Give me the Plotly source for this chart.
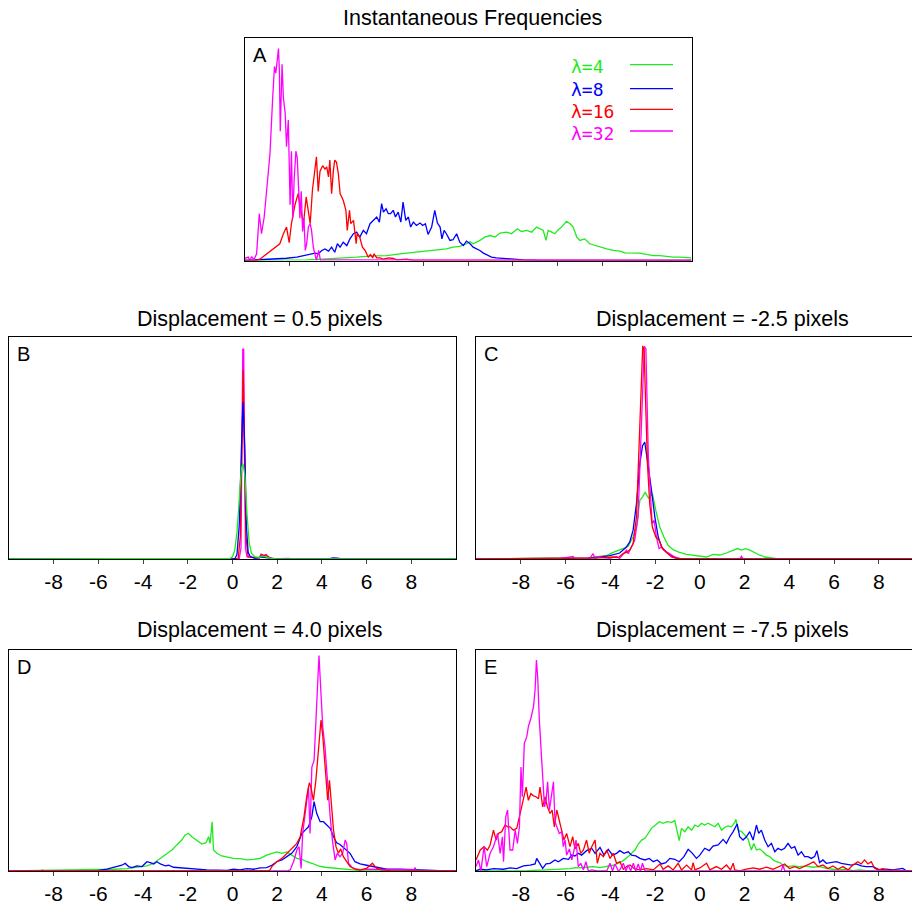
import plotly.graph_objects as go

# ---------------- data (x, relative density) ----------------
SERIES = ["λ=4", "λ=8", "λ=16", "λ=32"]
TICKS_A = [1, 2, 3, 4, 5, 6, 7, 8, 9]
TICKS_BE = [-8, -6, -4, -2, 0, 2, 4, 6, 8]
TICK_LABELS_BE = ["-8", "-6", "-4", "-2", "0", "2", "4", "6", "8"]
TITLES = ["Instantaneous Frequencies", "Displacement = 0.5 pixels", "Displacement = -2.5 pixels",
          "Displacement = 4.0 pixels", "Displacement = -7.5 pixels"]
LETTERS = ["A", "B", "C", "D", "E"]

A_L4 = [(0,0),(1.01,0),(1.38,0.003),(1.83,0.0075),(2.13,0.01),(2.50,0.015),(2.87,0.021),(3.17,0.022),(3.47,0.03),(3.77,0.037),(4.07,0.042),(4.22,0.045),(4.37,0.048),(4.51,0.052),(4.66,0.06),(4.81,0.063),(4.96,0.075),(5.04,0.084),(5.11,0.075),(5.19,0.082),(5.26,0.09),(5.37,0.105),(5.49,0.112),(5.60,0.105),(5.71,0.123),(5.86,0.127),(5.97,0.12),(6.10,0.142),(6.19,0.13),(6.31,0.135),(6.42,0.127),(6.53,0.15),(6.60,0.142),(6.68,0.135),(6.74,0.09),(6.79,0.135),(6.87,0.127),(6.94,0.12),(7.01,0.137),(7.09,0.15),(7.20,0.176),(7.28,0.165),(7.35,0.15),(7.43,0.105),(7.50,0.09),(7.61,0.097),(7.72,0.075),(7.84,0.067),(7.95,0.06),(8.10,0.052),(8.25,0.045),(8.40,0.042),(8.51,0.034),(8.69,0.033),(8.84,0.033),(8.99,0.027),(9.14,0.022),(9.29,0.022),(9.44,0.018),(9.59,0.015),(9.74,0.015),(9.89,0.012),(10,0.012)]
A_L8 = [(0,0),(0.34,0.003),(0.63,0.006),(0.93,0.01),(1.16,0.015),(1.31,0.022),(1.46,0.027),(1.57,0.033),(1.64,0.03),(1.72,0.045),(1.79,0.052),(1.87,0.042),(1.94,0.06),(2.01,0.037),(2.07,0.075),(2.13,0.06),(2.20,0.082),(2.28,0.067),(2.35,0.097),(2.43,0.12),(2.50,0.127),(2.57,0.105),(2.65,0.135),(2.72,0.12),(2.80,0.165),(2.87,0.18),(2.95,0.195),(3.01,0.172),(3.06,0.255),(3.10,0.217),(3.16,0.232),(3.21,0.21),(3.26,0.21),(3.32,0.225),(3.37,0.195),(3.43,0.217),(3.49,0.172),(3.54,0.262),(3.60,0.18),(3.66,0.195),(3.71,0.15),(3.77,0.172),(3.84,0.157),(3.92,0.168),(3.98,0.157),(4.04,0.165),(4.10,0.117),(4.18,0.15),(4.25,0.225),(4.31,0.168),(4.37,0.15),(4.41,0.097),(4.46,0.135),(4.51,0.12),(4.59,0.09),(4.66,0.093),(4.74,0.12),(4.81,0.082),(4.89,0.067),(4.96,0.087),(5.04,0.075),(5.11,0.06),(5.19,0.052),(5.26,0.045),(5.34,0.033),(5.41,0.027),(5.52,0.015),(5.63,0.012),(5.78,0.009),(6.01,0.006),(6.23,0.003),(6.60,0),(10,0)]
A_L16 = [(0,0),(0.26,0),(0.34,0.007),(0.49,0.03),(0.60,0.045),(0.71,0.06),(0.78,0.075),(0.86,0.12),(0.93,0.15),(0.99,0.08),(1.04,0.165),(1.12,0.25),(1.19,0.30),(1.25,0.225),(1.31,0.165),(1.37,0.285),(1.42,0.225),(1.46,0.165),(1.51,0.315),(1.57,0.43),(1.60,0.465),(1.64,0.31),(1.68,0.40),(1.74,0.425),(1.79,0.41),(1.83,0.42),(1.87,0.375),(1.90,0.45),(1.94,0.30),(1.98,0.405),(2.01,0.45),(2.05,0.44),(2.09,0.39),(2.13,0.30),(2.20,0.27),(2.26,0.225),(2.29,0.135),(2.34,0.225),(2.37,0.165),(2.43,0.18),(2.49,0.075),(2.51,0.12),(2.57,0.105),(2.63,0.06),(2.69,0.045),(2.76,0.015),(2.81,0.027),(2.86,0.012),(2.89,0.03),(2.95,0.012),(3.02,0.012),(3.10,0.006),(3.21,0.012),(3.32,0.009),(3.40,0.003),(3.62,0.006),(3.77,0),(10,0)]
A_L32 = [(0,0.01),(0.075,0.015),(0.11,0),(0.15,0.018),(0.2,0.003),(0.26,0.03),(0.32,0.21),(0.37,0.12),(0.43,0.195),(0.485,0.31),(0.56,0.48),(0.62,0.73),(0.66,0.87),(0.69,0.84),(0.75,0.95),(0.77,0.85),(0.79,0.58),(0.83,0.88),(0.86,0.73),(0.90,0.66),(0.93,0.51),(0.97,0.63),(1.01,0.25),(1.04,0.49),(1.07,0.19),(1.10,0.36),(1.14,0.49),(1.17,0.46),(1.20,0.34),(1.23,0.19),(1.26,0.31),(1.29,0.13),(1.32,0.19),(1.35,0.045),(1.38,0.075),(1.42,0.15),(1.46,0.165),(1.49,0.135),(1.53,0.06),(1.57,0.03),(1.60,0),(1.65,0.045),(1.69,0),(1.75,0.003),(10,0)]

B_L4 = [(-10,0),(-0.3,0),(-0.1,0.003),(0.0,0.01),(0.1,0.04),(0.2,0.12),(0.3,0.28),(0.4,0.41),(0.47,0.43),(0.55,0.38),(0.65,0.2),(0.75,0.07),(0.85,0.025),(1.0,0.01),(1.2,0.008),(1.35,0.012),(1.5,0.01),(1.7,0.003),(2.0,0),(10,0)]
B_L8 = [(-10,0),(0.1,0),(0.2,0.02),(0.3,0.15),(0.4,0.5),(0.47,0.707),(0.55,0.5),(0.62,0.15),(0.7,0.03),(0.8,0.01),(1.0,0.003),(1.3,0.008),(1.5,0.006),(2.0,0),(4.3,0),(4.5,0.005),(4.7,0.004),(4.9,0),(10,0)]
B_L16 = [(-10,0),(0.25,0),(0.35,0.1),(0.43,0.6),(0.48,0.85),(0.53,0.5),(0.6,0.1),(0.7,0.01),(1.2,0.005),(1.3,0.02),(1.4,0.015),(1.5,0.018),(1.7,0.003),(2.0,0),(10,0)]
B_L32 = [(-10,0),(0.3,0),(0.38,0.05),(0.43,0.5),(0.46,0.945),(0.5,0.945),(0.53,0.4),(0.58,0.05),(0.65,0.01),(1.2,0.005),(1.28,0.022),(1.4,0.015),(1.5,0.02),(1.6,0.008),(1.8,0),(2.5,0.003),(2.7,0),(10,0)]

C_L4 = [(-10,0),(-6,0.002),(-5,0.004),(-4.47,0.012),(-4.17,0.015),(-3.87,0.03),(-3.58,0.04),(-3.35,0.05),(-3.2,0.057),(-2.98,0.1),(-2.83,0.144),(-2.68,0.264),(-2.56,0.28),(-2.44,0.30),(-2.30,0.275),(-2.12,0.294),(-1.97,0.22),(-1.79,0.144),(-1.61,0.1),(-1.42,0.062),(-1.19,0.042),(-0.97,0.032),(-0.6,0.021),(-0.15,0.015),(0.3,0.009),(0.6,0.021),(0.89,0.018),(1.19,0.027),(1.42,0.036),(1.68,0.047),(1.86,0.04),(2.04,0.047),(2.24,0.04),(2.46,0.027),(2.68,0.017),(2.91,0.009),(3.13,0.006),(3.43,0.002),(3.87,0),(10,0)]
C_L8 = [(-10,0),(-6,0.002),(-5,0.004),(-4.47,0.009),(-4.02,0.015),(-3.58,0.027),(-3.28,0.054),(-3.13,0.077),(-2.98,0.13),(-2.83,0.25),(-2.68,0.43),(-2.56,0.51),(-2.46,0.527),(-2.38,0.47),(-2.27,0.40),(-2.16,0.31),(-2.01,0.19),(-1.86,0.1),(-1.71,0.054),(-1.49,0.03),(-1.27,0.015),(-1.04,0.003),(-0.3,0),(10,0)]
C_L16 = [(-10,0),(-5,0.002),(-4.47,0.005),(-3.87,0.009),(-3.65,0.006),(-3.43,0.024),(-3.28,0.03),(-3.13,0.04),(-2.98,0.07),(-2.83,0.19),(-2.71,0.5),(-2.62,0.8),(-2.55,0.96),(-2.49,0.94),(-2.41,0.65),(-2.34,0.43),(-2.24,0.25),(-2.12,0.144),(-1.97,0.1),(-1.82,0.084),(-1.67,0.047),(-1.49,0.03),(-1.27,0.009),(-1.04,0.003),(-0.3,0),(10,0)]
C_L32 = [(-10,0),(-6.26,0.002),(-5.66,0.012),(-5.59,0),(-4.92,0.003),(-4.77,0.024),(-4.69,0.003),(-4.47,0.009),(-4.02,0.003),(-3.73,0.012),(-3.58,0.003),(-3.43,0.024),(-3.28,0.04),(-3.2,0.024),(-3.06,0.054),(-2.91,0.084),(-2.76,0.19),(-2.64,0.5),(-2.53,0.85),(-2.48,0.958),(-2.41,0.947),(-2.35,0.73),(-2.3,0.46),(-2.2,0.28),(-2.13,0.16),(-2.04,0.174),(-1.94,0.1),(-1.82,0.047),(-1.71,0.054),(-1.61,0.04),(-1.46,0.032),(-1.31,0.021),(-1.12,0.009),(-0.89,0.003),(-0.3,0),(1.79,0),(1.86,0.012),(1.94,0),(10,0)]

D_L4 = [(-10,0),(-6.07,0.005),(-5.32,0.008),(-4.72,0.011),(-4.13,0.017),(-3.83,0.023),(-3.53,0.035),(-3.23,0.057),(-2.94,0.08),(-2.71,0.095),(-2.49,0.118),(-2.27,0.14),(-2.12,0.163),(-1.97,0.17),(-1.82,0.155),(-1.59,0.14),(-1.37,0.122),(-1.18,0.128),(-1.07,0.155),(-1.0,0.125),(-0.91,0.223),(-0.85,0.095),(-0.70,0.08),(-0.48,0.068),(-0.25,0.062),(0.04,0.057),(0.34,0.056),(0.64,0.05),(0.94,0.053),(1.24,0.057),(1.53,0.072),(1.76,0.08),(1.98,0.086),(2.21,0.08),(2.43,0.086),(2.65,0.072),(2.88,0.057),(3.1,0.053),(3.32,0.042),(3.55,0.035),(3.84,0.023),(4.14,0.017),(4.52,0.014),(4.81,0.011),(5.26,0.005),(5.71,0.002),(6.5,0),(10,0)]
D_L8 = [(-10,0),(-6.07,0.002),(-5.62,0.008),(-5.40,0.015),(-5.17,0.02),(-4.95,0.026),(-4.8,0.035),(-4.65,0.02),(-4.5,0.015),(-4.28,0.023),(-4.05,0.02),(-3.83,0.042),(-3.68,0.038),(-3.53,0.032),(-3.38,0.042),(-3.23,0.032),(-3.01,0.023),(-2.86,0.026),(-2.64,0.017),(-2.34,0.014),(-2.04,0.011),(-1.74,0.008),(-1.15,0.005),(-0.25,0.003),(0.04,0.008),(0.34,0.005),(0.64,0.011),(0.94,0.008),(1.24,0.014),(1.53,0.015),(1.76,0.026),(1.98,0.042),(2.21,0.05),(2.43,0.065),(2.65,0.08),(2.88,0.11),(3.1,0.17),(3.25,0.185),(3.40,0.2),(3.55,0.246),(3.65,0.314),(3.77,0.26),(3.92,0.223),(4.07,0.223),(4.22,0.208),(4.37,0.193),(4.52,0.155),(4.66,0.128),(4.81,0.12),(5.04,0.1),(5.26,0.08),(5.48,0.042),(5.71,0.032),(6.0,0.026),(6.3,0.02),(6.6,0.011),(6.9,0.008),(7.5,0.008),(8.1,0.005),(8.69,0.005),(9.28,0.002),(10,0)]
D_L16 = [(-10,0),(-8.6,0),(-8.5,0.004),(-8.4,0),(1.6,0),(1.68,0.005),(1.76,0.02),(1.98,0.042),(2.21,0.057),(2.43,0.08),(2.65,0.1),(2.88,0.125),(3.03,0.155),(3.20,0.246),(3.32,0.336),(3.44,0.4),(3.52,0.374),(3.62,0.32),(3.73,0.41),(3.84,0.547),(3.96,0.683),(4.04,0.61),(4.14,0.457),(4.26,0.32),(4.34,0.41),(4.41,0.32),(4.52,0.185),(4.63,0.11),(4.74,0.08),(4.84,0.1),(4.96,0.065),(5.11,0.042),(5.26,0.02),(5.48,0.008),(5.71,0.005),(6.0,0.012),(6.26,0.035),(6.45,0.012),(6.68,0.005),(7.05,0.002),(7.5,0),(10,0)]
D_L32 = [(-10,0),(2.43,0),(2.58,0.005),(2.73,0.042),(2.88,0.095),(2.98,0.11),(3.07,0.012),(3.14,0.17),(3.29,0.29),(3.40,0.38),(3.47,0.17),(3.55,0.47),(3.65,0.50),(3.77,0.74),(3.87,0.975),(3.95,0.82),(4.04,0.65),(4.14,0.56),(4.25,0.4),(4.37,0.246),(4.47,0.14),(4.59,0.05),(4.69,0.08),(4.81,0.065),(4.93,0.08),(5.04,0.14),(5.11,0.125),(5.19,0.035),(5.34,0.017),(5.56,0.008),(5.78,0.005),(6.0,0.008),(8.1,0.005),(8.17,0.014),(8.24,0),(10,0)]

E_L4 = [(-10,0),(-9.2,0),(-7.73,0.0015),(-6.84,0.005),(-6.25,0.008),(-5.80,0.011),(-5.58,0.015),(-5.43,0.014),(-5.06,0.017),(-4.76,0.02),(-4.46,0.015),(-4.16,0.02),(-3.87,0.026),(-3.64,0.035),(-3.42,0.047),(-3.20,0.065),(-3.05,0.08),(-2.90,0.095),(-2.75,0.122),(-2.60,0.14),(-2.45,0.148),(-2.30,0.17),(-2.16,0.193),(-1.98,0.208),(-1.81,0.223),(-1.64,0.216),(-1.46,0.223),(-1.26,0.22),(-1.12,0.228),(-1.01,0.178),(-0.92,0.137),(-0.82,0.193),(-0.67,0.178),(-0.52,0.2),(-0.37,0.185),(-0.22,0.208),(-0.07,0.2),(0.07,0.216),(0.22,0.208),(0.37,0.216),(0.52,0.208),(0.67,0.2),(0.82,0.216),(0.97,0.185),(1.12,0.198),(1.26,0.204),(1.41,0.2),(1.56,0.22),(1.61,0.234),(1.71,0.185),(1.86,0.178),(2.01,0.163),(2.16,0.143),(2.30,0.095),(2.41,0.125),(2.53,0.095),(2.68,0.1),(2.83,0.087),(2.97,0.072),(3.12,0.065),(3.27,0.05),(3.42,0.042),(3.57,0.038),(3.72,0.026),(3.94,0.02),(4.16,0.023),(4.46,0.02),(4.76,0.023),(5.05,0.017),(5.35,0.02),(5.65,0.012),(5.95,0.008),(6.25,0.005),(6.54,0.008),(6.84,0.0015),(7.14,0.005),(7.43,0.0015),(7.88,0),(10,0)]
E_L8 = [(-10,0.0015),(-9.81,0.008),(-9.52,0.005),(-9.22,0.011),(-8.77,0.008),(-8.48,0.014),(-8.18,0.011),(-7.88,0.023),(-7.58,0.027),(-7.36,0.032),(-7.29,0.057),(-7.14,0.032),(-7.02,0.012),(-6.87,0.032),(-6.69,0.035),(-6.47,0.05),(-6.32,0.042),(-6.10,0.057),(-5.87,0.053),(-5.72,0.072),(-5.58,0.068),(-5.43,0.08),(-5.28,0.072),(-5.06,0.092),(-4.83,0.103),(-4.68,0.08),(-4.46,0.107),(-4.28,0.072),(-4.09,0.098),(-3.90,0.072),(-3.72,0.08),(-3.57,0.092),(-3.39,0.08),(-3.20,0.087),(-3.05,0.072),(-2.86,0.068),(-2.68,0.057),(-2.45,0.05),(-2.26,0.057),(-2.08,0.042),(-1.90,0.05),(-1.71,0.032),(-1.52,0.038),(-1.34,0.057),(-1.12,0.053),(-0.92,0.042),(-0.71,0.065),(-0.52,0.098),(-0.33,0.08),(-0.15,0.057),(0.0,0.072),(0.22,0.103),(0.42,0.092),(0.59,0.113),(0.82,0.118),(1.04,0.143),(1.19,0.125),(1.34,0.155),(1.49,0.178),(1.67,0.213),(1.78,0.155),(1.93,0.14),(2.08,0.155),(2.23,0.178),(2.38,0.14),(2.53,0.208),(2.63,0.17),(2.75,0.185),(2.90,0.14),(3.05,0.11),(3.20,0.125),(3.35,0.087),(3.49,0.103),(3.64,0.095),(3.79,0.103),(3.94,0.125),(4.09,0.103),(4.24,0.11),(4.39,0.072),(4.54,0.087),(4.68,0.065),(4.83,0.065),(4.98,0.057),(5.13,0.065),(5.23,0.092),(5.35,0.038),(5.50,0.05),(5.65,0.035),(5.87,0.038),(6.10,0.042),(6.32,0.035),(6.54,0.032),(6.77,0.027),(6.99,0.032),(7.21,0.023),(7.43,0.02),(7.73,0.02),(8.03,0.005),(8.33,0.008),(8.62,0.005),(8.92,0.008),(9.07,0.012),(9.22,0.0015),(9.6,0.0015)]
E_L16 = [(-10,0.05),(-9.81,0.095),(-9.64,0.11),(-9.49,0.094),(-9.37,0.118),(-9.22,0.185),(-9.10,0.14),(-9.0,0.17),(-8.85,0.178),(-8.70,0.208),(-8.59,0.2),(-8.48,0.2),(-8.33,0.185),(-8.18,0.193),(-8.03,0.26),(-7.88,0.336),(-7.76,0.38),(-7.66,0.32),(-7.55,0.35),(-7.43,0.34),(-7.32,0.336),(-7.21,0.327),(-7.14,0.38),(-7.02,0.29),(-6.91,0.336),(-6.81,0.29),(-6.69,0.26),(-6.6,0.276),(-6.50,0.2),(-6.39,0.276),(-6.28,0.23),(-6.17,0.17),(-6.07,0.14),(-5.95,0.17),(-5.80,0.11),(-5.68,0.155),(-5.58,0.1),(-5.43,0.125),(-5.32,0.08),(-5.20,0.095),(-5.06,0.14),(-4.94,0.08),(-4.83,0.11),(-4.68,0.14),(-4.58,0.035),(-4.46,0.08),(-4.31,0.065),(-4.16,0.095),(-4.01,0.057),(-3.87,0.08),(-3.72,0.035),(-3.57,0.042),(-3.42,0.008),(-3.27,0.02),(-3.12,0.027),(-2.90,0.008),(-2.68,0.005),(-2.38,0.011),(-2.08,0.005),(-1.78,0.032),(-1.64,0.008),(-1.41,0.023),(-1.19,0.005),(-0.97,0.035),(-0.82,0.005),(-0.59,0.027),(-0.37,0.005),(-0.3,0.038),(-0.22,0.005),(0.0,0.014),(0.3,0.035),(0.45,0.005),(0.74,0.02),(0.97,0.008),(1.19,0.027),(1.37,0.005),(1.49,0.035),(1.56,0.005),(1.78,0),(2.08,0.008),(2.38,0.014),(2.68,0.008),(2.97,0.017),(3.27,0.008),(3.57,0.02),(3.79,0.032),(4.01,0.011),(4.24,0.02),(4.46,0.011),(4.68,0.02),(4.91,0.032),(5.09,0.042),(5.28,0.02),(5.50,0.027),(5.72,0.011),(5.95,0.023),(6.17,0.008),(6.39,0.02),(6.62,0.005),(6.84,0.027),(7.06,0.042),(7.21,0.032),(7.36,0.05),(7.51,0.032),(7.66,0.042),(7.81,0.012),(7.96,0.005),(8.18,0.011),(8.48,0.0015),(8.77,0.005),(9.07,0),(9.37,0.0015),(9.6,0)]
E_L32 = [(-10,0.02),(-9.89,0.05),(-9.78,0),(-9.64,0.11),(-9.52,0.02),(-9.37,0.08),(-9.22,0.11),(-9.04,0.17),(-8.92,0.08),(-8.82,0.155),(-8.77,0.042),(-8.67,0.246),(-8.59,0.276),(-8.48,0.095),(-8.36,0.095),(-8.25,0.185),(-8.15,0.125),(-8.06,0.2),(-7.99,0.47),(-7.93,0.336),(-7.84,0.578),(-7.73,0.608),(-7.66,0.653),(-7.55,0.69),(-7.43,0.744),(-7.36,0.82),(-7.30,0.955),(-7.24,0.87),(-7.17,0.683),(-7.09,0.547),(-7.02,0.41),(-6.94,0.29),(-6.87,0.32),(-6.80,0.404),(-6.72,0.276),(-6.62,0.336),(-6.54,0.404),(-6.47,0.223),(-6.39,0.2),(-6.28,0.17),(-6.17,0.178),(-6.10,0.11),(-6.02,0.14),(-5.95,0.072),(-5.83,0.1),(-5.72,0.05),(-5.65,0.08),(-5.53,0.14),(-5.43,0.02),(-5.32,0.035),(-5.20,0.005),(-5.09,0.042),(-4.98,0),(-4.83,0.005),(-4.61,0),(-4.16,0),(-4.01,0.035),(-3.90,0),(-3.79,0.032),(-3.64,0),(-3.57,0.005),(-3.42,0.035),(-3.30,0),(-3.20,0.027),(-3.09,0),(-2.97,0.035),(-2.86,0),(-2.75,0.032),(-2.65,0),(-2.56,0.035),(-2.45,0),(3.64,0),(3.72,0.027),(3.79,0),(9.6,0)]

# ---------------- styling ----------------
W, H = 912, 905
COLORS = {"λ=4": "rgb(30,235,30)", "λ=8": "rgb(0,0,255)", "λ=16": "rgb(255,0,0)", "λ=32": "rgb(255,0,255)"}
SANS = "Liberation Sans, Arial, Helvetica, sans-serif"
MONO = "DejaVu Sans Mono, monospace"


def fx(p):
    return p / W


def fy(p):
    return 1 - p / H


# panel boxes in pixels: (left, right, top, bottom)
BOX = {
    "A": (245, 691.5, 37.5, 260.5),
    "B": (9, 456, 337, 559),
    "C": (476, 912, 337, 559),
    "D": (9, 456, 650, 871),
    "E": (476, 912, 650, 871),
}
XRANGE = {"A": [0, 10], "B": [-10, 10], "C": [-10, 9.48], "D": [-10, 10], "E": [-10, 9.48]}

PANEL_DATA = {
    "A": {"λ=4": A_L4, "λ=8": A_L8, "λ=16": A_L16, "λ=32": A_L32},
    "B": {"λ=4": B_L4, "λ=8": B_L8, "λ=16": B_L16, "λ=32": B_L32},
    "C": {"λ=4": C_L4, "λ=8": C_L8, "λ=16": C_L16, "λ=32": C_L32},
    "D": {"λ=4": D_L4, "λ=8": D_L8, "λ=16": D_L16, "λ=32": D_L32},
    "E": {"λ=4": E_L4, "λ=8": E_L8, "λ=16": E_L16, "λ=32": E_L32},
}
ORDER = {
    "A": ["λ=4", "λ=8", "λ=16", "λ=32"],
    "B": ["λ=32", "λ=16", "λ=8", "λ=4"],
    "C": ["λ=4", "λ=8", "λ=32", "λ=16"],
    "D": ["λ=4", "λ=8", "λ=32", "λ=16"],
    "E": ["λ=4", "λ=8", "λ=16", "λ=32"],
}

fig = go.Figure()
layout = dict(
    width=W, height=H, margin=dict(l=0, r=0, t=0, b=0),
    paper_bgcolor="white", plot_bgcolor="white", showlegend=False,
    font=dict(family=SANS, size=21, color="black"),
)
annotations = []
shapes = []

for i, key in enumerate(LETTERS):
    ax = "" if i == 0 else str(i + 1)
    l, r, t, b = BOX[key]
    for name in ORDER[key]:
        pts = PANEL_DATA[key][name]
        fig.add_trace(go.Scatter(
            x=[p[0] for p in pts], y=[p[1] for p in pts], mode="lines", name=name,
            line=dict(color=COLORS[name], width=1.3), xaxis="x" + ax, yaxis="y" + ax,
            hoverinfo="skip",
        ))
    xa = dict(
        domain=[fx(l), fx(r)], range=XRANGE[key], anchor="y" + ax,
        showline=True, linecolor="black", linewidth=1, mirror=True,
        ticks="outside", ticklen=4, tickwidth=1, tickcolor="#444",
        showgrid=False, zeroline=False,
    )
    if key == "A":
        xa.update(tickmode="array", tickvals=TICKS_A, showticklabels=False)
    else:
        xa.update(tickmode="array", tickvals=TICKS_BE, ticktext=TICK_LABELS_BE,
                  tickfont=dict(family=SANS, size=21, color="black"))
    ya = dict(
        domain=[fy(b), fy(t)], range=[0, 1], anchor="x" + ax,
        showline=True, linecolor="black", linewidth=1, mirror=key not in ("C", "E"),
        showticklabels=False, ticks="", showgrid=False, zeroline=False,
    )
    layout["xaxis" + ax] = xa
    layout["yaxis" + ax] = ya
    # panel letter
    annotations.append(dict(
        text=key, xref="paper", yref="paper", x=fx(l + 6), y=fy(t + 4),
        xanchor="left", yanchor="top", showarrow=False,
        font=dict(family=SANS, size=20, color="black"),
    ))

# titles
TITLE_POS = [(472.5, 18), (260, 318.5), (722.5, 318.5), (259.5, 629.5), (722.5, 629.5)]
for title, (cx, cy) in zip(TITLES, TITLE_POS):
    annotations.append(dict(
        text=title, xref="paper", yref="paper", x=fx(cx), y=fy(cy),
        xanchor="center", yanchor="middle", showarrow=False,
        font=dict(family=SANS, size=21.5, color="black"),
    ))

# legend in panel A (text then line sample)
LEG_TEXT_Y = [66, 89, 111, 133]
LEG_LINE_Y = [64.7, 88.7, 109.3, 131]
for name, ty, ly in zip(SERIES, LEG_TEXT_Y, LEG_LINE_Y):
    annotations.append(dict(
        text=name, xref="paper", yref="paper", x=fx(569), y=fy(ty),
        xanchor="left", yanchor="middle", showarrow=False, height=20,
        font=dict(family=MONO, size=18, color=COLORS[name]),
    ))
    shapes.append(dict(
        type="line", xref="paper", yref="paper", x0=fx(630), x1=fx(673), y0=fy(ly), y1=fy(ly),
        line=dict(color=COLORS[name], width=1.3),
    ))

layout["annotations"] = annotations
layout["shapes"] = shapes
fig.update_layout(**layout)
fig.write_html(
    "out.html",
    config={"displayModeBar": False},
    post_script="document.body.style.margin='0px';document.body.style.overflow='hidden';",
)
